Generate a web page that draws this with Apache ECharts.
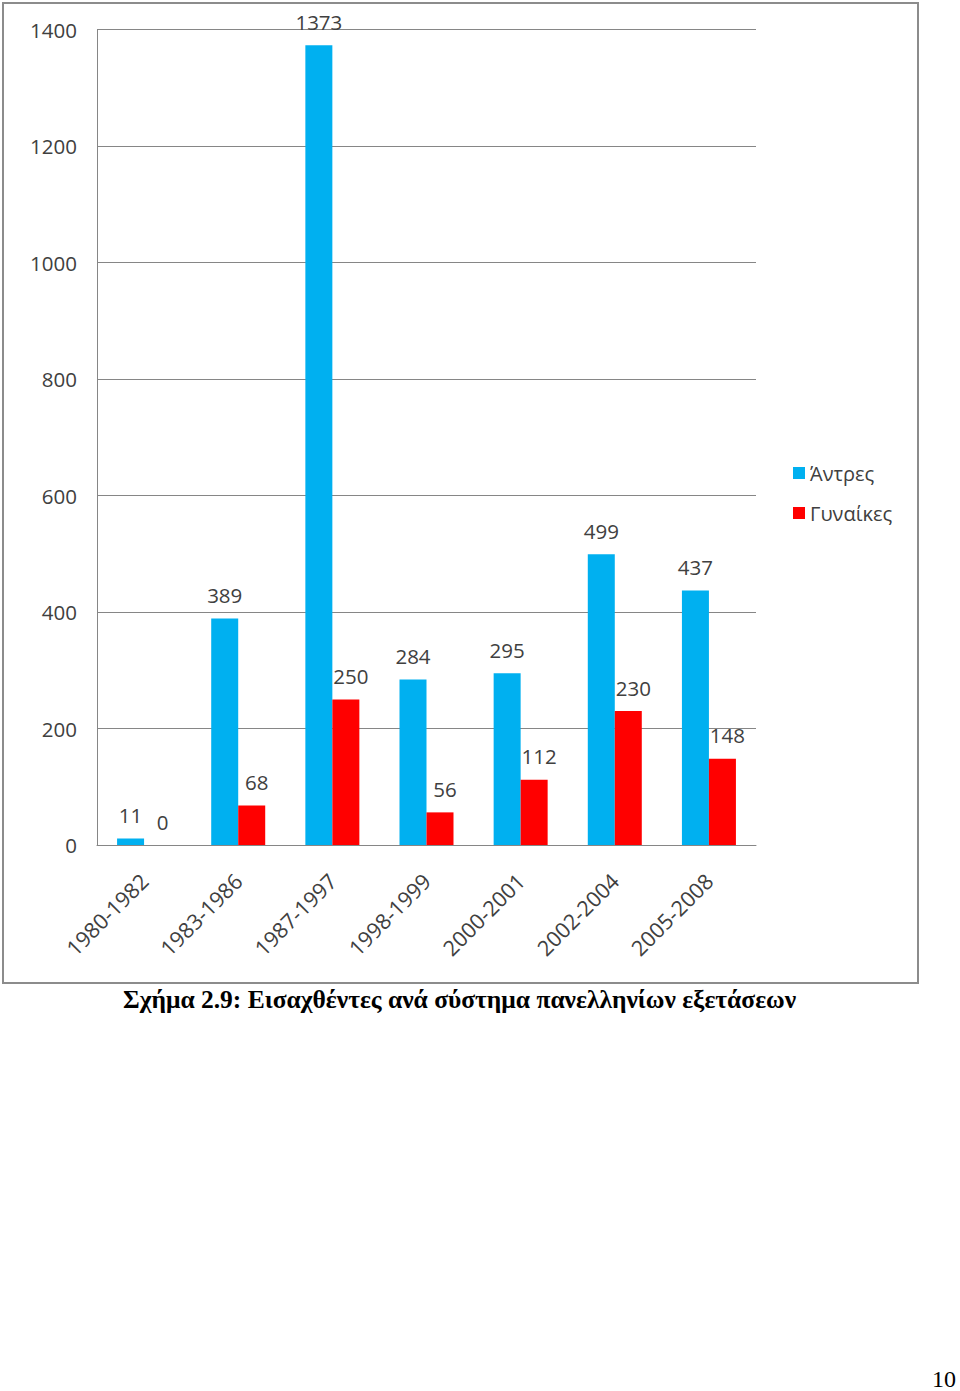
<!DOCTYPE html>
<html><head><meta charset="utf-8">
<script src="https://cdn.jsdelivr.net/npm/echarts@6/dist/echarts.min.js"></script>
<style>
html,body{margin:0;padding:0;background:#fff;}
#c{width:960px;height:1391px;}
</style></head>
<body><div id="c"></div>
<script>
const categories = ['1980-1982','1983-1986','1987-1997','1998-1999','2000-2001','2002-2004','2005-2008'];
const men = [11, 389, 1373, 284, 295, 499, 437];
const women = [0, 68, 250, 56, 112, 230, 148];
const seriesNames = ['Άντρες', 'Γυναίκες'];
const yTicks = [0, 200, 400, 600, 800, 1000, 1200, 1400];

const chart = echarts.init(document.getElementById('c'), null, {renderer: 'svg'});
const font = '"Open Sans", "Noto Sans", sans-serif';
const labelStyle = {show: true, position: 'top', distance: 13, color: '#404040', fontSize: 20.5, fontFamily: font};
chart.setOption({
  animation: false,
  backgroundColor: '#fff',
  graphic: [
    {type: 'rect', shape: {x: 3, y: 3, width: 915, height: 980}, style: {fill: 'none', stroke: '#8c8c8c', lineWidth: 2}, z: -1},
    {type: 'text', left: 123, top: 986, style: {text: 'Σχήμα 2.9: Εισαχθέντες ανά σύστημα πανελληνίων εξετάσεων', fill: '#000', font: 'bold 25.5px "Liberation Serif", "DejaVu Serif", serif'}},
    {type: 'text', left: 932, top: 1367, style: {text: '10', fill: '#000', font: '24px "Liberation Serif", "DejaVu Serif", serif'}}
  ],
  legend: {
    orient: 'vertical', left: 788, top: 458, itemWidth: 12, itemHeight: 12, itemGap: 20,
    icon: 'rect',
    textStyle: {color: '#404040', fontSize: 20, fontFamily: font},
    data: seriesNames
  },
  grid: {left: 97, top: 29.5, width: 659, height: 815.5},
  xAxis: {
    type: 'category', data: categories,
    axisLine: {lineStyle: {color: '#868686', width: 1}},
    axisTick: {show: false},
    axisLabel: {rotate: 45, color: '#404040', fontSize: 21.5, fontFamily: font, margin: 32, interval: 0}
  },
  yAxis: {
    type: 'value', min: yTicks[0], max: yTicks[yTicks.length - 1], interval: 200,
    axisLine: {show: true, lineStyle: {color: '#868686', width: 1}},
    axisTick: {show: false},
    splitLine: {lineStyle: {color: '#868686', width: 1}},
    axisLabel: {color: '#404040', fontSize: 20.5, fontFamily: font, margin: 20, formatter: function (v) { return String(v); }}
  },
  series: [
    {name: seriesNames[0], type: 'bar', data: men, barWidth: 27, barGap: '0%', itemStyle: {color: '#00B0F0'}, label: labelStyle},
    {name: seriesNames[1], type: 'bar', data: women, barWidth: 27, barGap: '0%', itemStyle: {color: '#FF0000'}, label: Object.assign({}, labelStyle, {offset: [5, 0]})}
  ]
});
</script></body></html>
